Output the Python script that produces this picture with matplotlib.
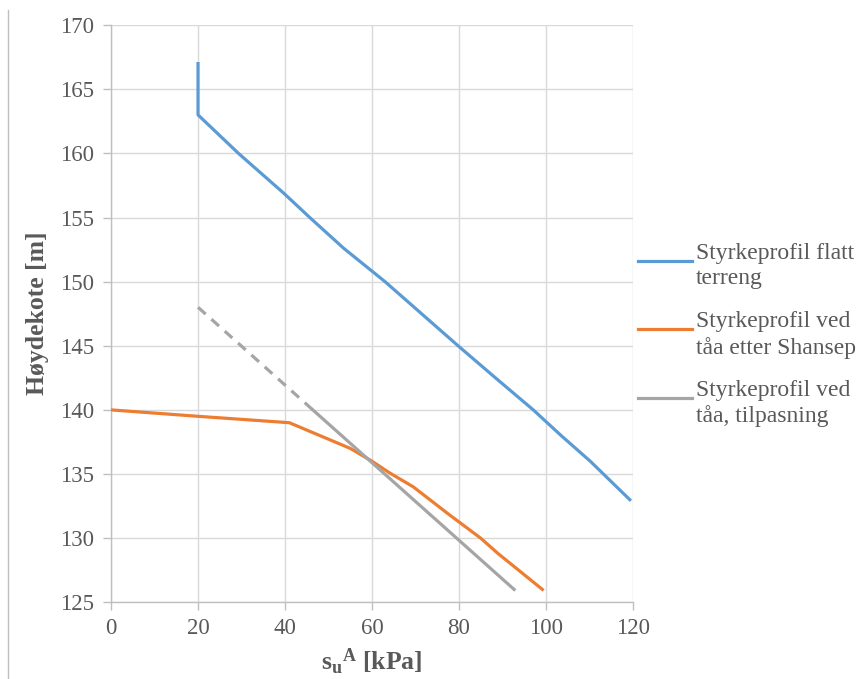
import matplotlib
matplotlib.use('Agg')
import matplotlib.pyplot as plt
from matplotlib.lines import Line2D

plt.rcParams['font.family'] = 'Liberation Serif'
plt.rcParams['mathtext.fontset'] = 'custom'
plt.rcParams['mathtext.rm'] = 'Liberation Serif'
plt.rcParams['mathtext.bf'] = 'Liberation Serif:bold'
plt.rcParams['mathtext.it'] = 'Liberation Serif:italic'

# Styrkeprofil flatt terreng
flat_su = [20, 20, 29.3, 39.7, 45.7, 53.5, 63, 71.4, 79.8, 88.4, 97.1, 103.5, 110.2, 119.3]
flat_z = [167, 163, 160, 156.9, 155, 152.6, 150, 147.5, 145, 142.5, 140, 138, 136, 133]

# Styrkeprofil ved tåa etter Shansep
shansep_su = [0, 20, 41, 48, 55, 60, 64, 69.5, 77.5, 85, 89, 99.2]
shansep_z = [140, 139.5, 139, 138, 137, 136, 135.1, 134.0, 131.9, 130.0, 128.8, 126]

# Styrkeprofil ved tåa, tilpasning (stiplet over 140 m)
fit_dash_su = [20, 46.4]
fit_dash_z = [148, 140]
fit_su = [46.4, 92.7]
fit_z = [140, 126]

x_ticks = [0, 20, 40, 60, 80, 100, 120]
y_ticks = [125, 130, 135, 140, 145, 150, 155, 160, 165, 170]

BLUE = '#5B9BD5'
ORANGE = '#ED7D31'
GRAY = '#A5A5A5'
TEXT = '#595959'

fig = plt.figure(figsize=(8.61, 6.79), dpi=100)
ax = fig.add_axes([0.129, 0.113, 0.606, 0.85])

ax.plot(flat_su, flat_z, color=BLUE, lw=2.3, zorder=3)
ax.plot(shansep_su, shansep_z, color=ORANGE, lw=2.3, zorder=3)
ax.plot(fit_dash_su, fit_dash_z, color=GRAY, lw=2.3, dashes=(3.2, 2.4), zorder=3)
ax.plot(fit_su, fit_z, color=GRAY, lw=2.3, zorder=3)

ax.set_xlim(0, 120)
ax.set_ylim(125, 170)
ax.set_xticks(x_ticks)
ax.set_yticks(y_ticks)
ax.grid(True, color='#d9d9d9', lw=1.0, zorder=0)
ax.set_axisbelow(True)
for side in ['top', 'right']:
    ax.spines[side].set_visible(False)
for side in ['left', 'bottom']:
    ax.spines[side].set_color('#bfbfbf')
    ax.spines[side].set_linewidth(1.0)
ax.tick_params(axis='x', colors='#bfbfbf', length=6, width=1.0, labelcolor=TEXT, labelsize=16.5, pad=5)
ax.tick_params(axis='y', colors='#bfbfbf', length=6, width=1.0, labelcolor=TEXT, labelsize=16.5, pad=6)

ax.set_ylabel('Høydekote [m]', fontsize=18.5, fontweight='bold', color=TEXT, labelpad=8)
ax.set_xlabel(r'$\mathbf{s_u}^{\mathbf{A}}$ [kPa]', fontsize=18.5, fontweight='bold', color=TEXT, labelpad=6)

# legend on the right
entries = [
    (BLUE, 'Styrkeprofil flatt\nterreng', 260.5),
    (ORANGE, 'Styrkeprofil ved\ntåa etter Shansep', 329),
    (GRAY, 'Styrkeprofil ved\ntåa, tilpasning', 397.5),
]
W, H = 861, 679
for color, label, ypx in entries:
    y = 1 - ypx / H
    fig.add_artist(Line2D([638 / W, 692 / W], [y, y], color=color, lw=2.3,
                          transform=fig.transFigure))
    fig.text(696 / W, y + 0.026, label, fontsize=17, color=TEXT, va='top', ha='left',
             linespacing=1.25)

# thin frame line at the left edge
fig.add_artist(Line2D([8 / W, 8 / W], [0, 1 - 10 / H], color='#bfbfbf', lw=1.0,
                      transform=fig.transFigure))

fig.savefig('out.png', dpi=100)
